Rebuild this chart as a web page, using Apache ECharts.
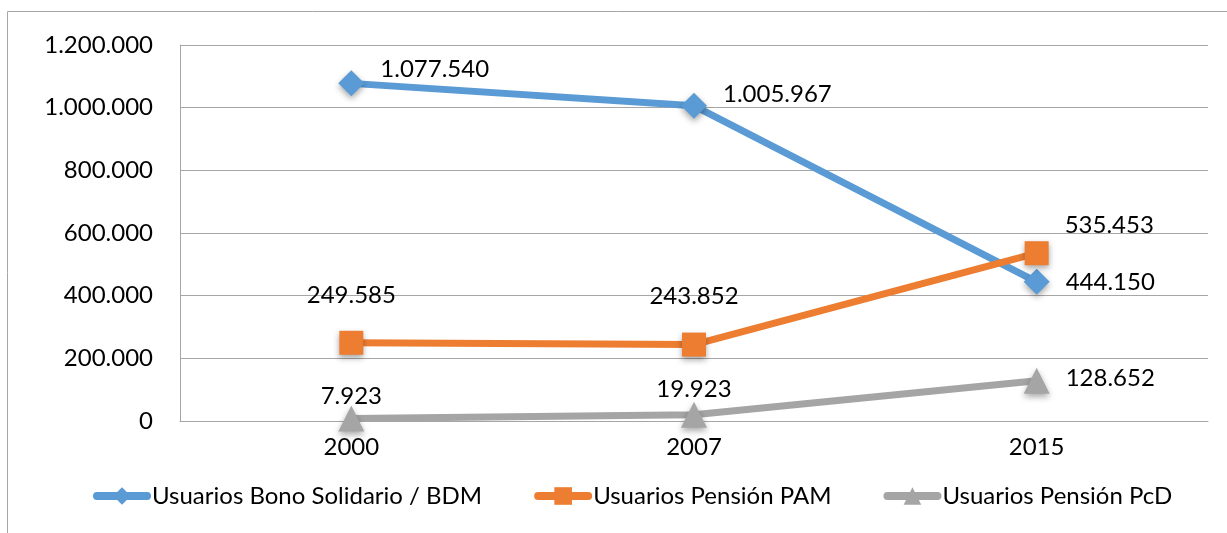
<!DOCTYPE html>
<html>
<head>
<meta charset="utf-8">
<script src="https://cdn.jsdelivr.net/npm/echarts@6/dist/echarts.min.js"></script>
<style>
  html, body { margin: 0; padding: 0; background: #fff; }
  #chart { width: 1227px; height: 533px; }
</style>
</head>
<body>
<div id="chart"></div>
<script>
// categorías y valores
var years = ['2000', '2007', '2015'];
var bdm = [1077540, 1005967, 444150];
var pam = [249585, 243852, 535453];
var pcd = [7923, 19923, 128652];
var seriesNames = ['Usuarios Bono Solidario / BDM', 'Usuarios Pensión PAM', 'Usuarios Pensión PcD'];
var colors = ['#5B9BD5', '#ED7D31', '#A5A5A5'];

var font = 'Lato, "Open Sans", sans-serif';
var fs = 24;

function fmt(v) {
  return String(v).replace(/\B(?=(\d{3})+(?!\d))/g, '.');
}

// posición de cada etiqueta, como en la imagen
var bdmLabels = [
  { position: 'right', distance: 16, offset: [0, -14] },
  { position: 'right', distance: 16, offset: [0, -12] },
  { position: 'right', distance: 16, offset: [0, 0] }
];
var pamLabels = [
  { position: 'top', distance: 24, offset: [0, 0] },
  { position: 'top', distance: 24, offset: [0, 0] },
  { position: 'right', distance: 16, offset: [0, -28] }
];
var pcdLabels = [
  { position: 'top', distance: -3, offset: [0, 0] },
  { position: 'top', distance: 0, offset: [0, 0] },
  { position: 'right', distance: 16, offset: [0, -2] }
];

function build(values, labels) {
  return values.map(function (v, i) {
    return { value: v, label: labels[i] };
  });
}

var chart = echarts.init(document.getElementById('chart'));

function makeSeries(name, values, labels, symbol, size, color) {
  return {
    name: name,
    type: 'line',
    data: build(values, labels),
    symbol: symbol,
    symbolSize: size,
    showAllSymbol: true,
    lineStyle: { width: 7, color: color },
    itemStyle: {
      color: color,
      shadowColor: 'rgba(0,0,0,0.35)',
      shadowBlur: 6,
      shadowOffsetY: 3
    },
    label: {
      show: true,
      color: '#000',
      fontFamily: font,
      fontSize: fs,
      formatter: function (p) { return fmt(p.value); }
    },
    emphasis: { disabled: true },
    animation: false
  };
}

var option = {
  backgroundColor: '#fff',
  graphic: [
    {
      type: 'polyline',
      shape: { points: [[7.5, 540], [7.5, 11.5], [1240, 11.5]] },
      style: { stroke: '#A6A6A6', lineWidth: 1, fill: null }
    }
  ],
  grid: { left: 180, right: 19, top: 45, bottom: 112 },
  legend: {
    bottom: 20,
    left: 88,
    itemWidth: 50,
    itemHeight: 22,
    itemGap: 52,
    lineStyle: { width: 8, cap: 'round' },
    textStyle: { fontFamily: font, fontSize: fs, color: '#000' },
    data: seriesNames
  },
  xAxis: {
    type: 'category',
    data: years,
    boundaryGap: true,
    axisLine: { lineStyle: { color: '#A6A6A6' } },
    axisTick: { show: false },
    axisLabel: { fontFamily: font, fontSize: fs, color: '#000', margin: 14 }
  },
  yAxis: {
    type: 'value',
    min: 0,
    max: 1200000,
    interval: 200000,
    axisLine: { show: true, lineStyle: { color: '#A6A6A6' } },
    axisTick: { show: false },
    splitLine: { lineStyle: { color: '#A6A6A6' } },
    axisLabel: {
      fontFamily: font,
      fontSize: fs,
      color: '#000',
      margin: 27,
      formatter: function (v) { return fmt(v); }
    }
  },
  series: [
    makeSeries(seriesNames[0], bdm, bdmLabels, 'diamond', 26, colors[0]),
    makeSeries(seriesNames[1], pam, pamLabels, 'rect', 24, colors[1]),
    makeSeries(seriesNames[2], pcd, pcdLabels, 'triangle', 26, colors[2])
  ]
};

chart.setOption(option);
</script>
</body>
</html>
